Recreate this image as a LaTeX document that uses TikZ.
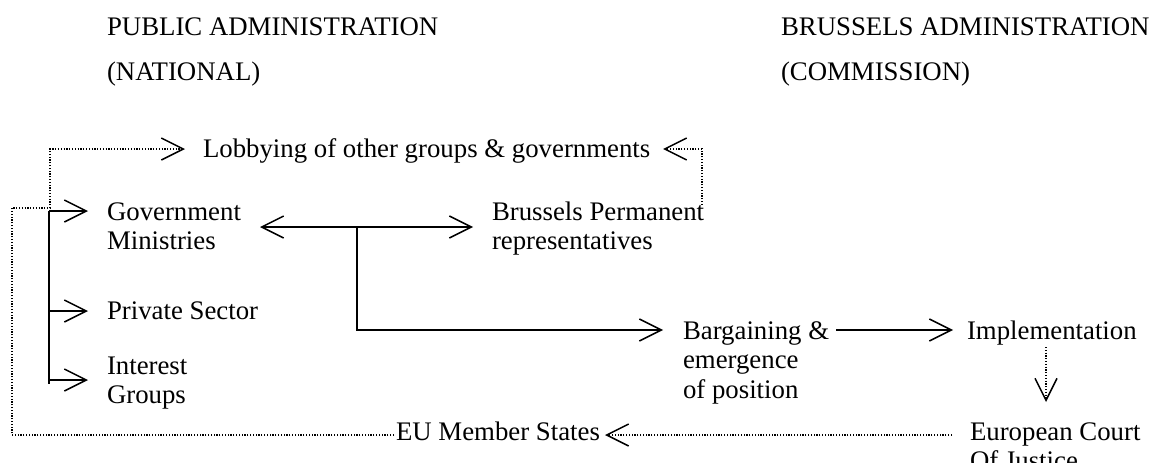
\documentclass[tikz,border=0pt]{standalone}
\usepackage{fontspec}
\setmainfont{Liberation Serif}
\usetikzlibrary{arrows.meta}
\newcommand{\diagfont}{\fontsize{26.8}{29.5}\selectfont}
\begin{document}
\begin{tikzpicture}[x=1pt,y=-1pt,
  txt/.style={font=\diagfont, anchor=base west, inner sep=0pt, outer sep=0pt},
  sol/.style={line width=1.5pt},
  dotln/.style={line width=1.2pt, dash pattern=on 1.2pt off 1.6pt},
  arr/.style={-{Straight Barb[length=22pt,width=22pt,line width=1.5pt]}},
  darr/.style={{Straight Barb[length=22pt,width=22pt,line width=1.5pt]}-{Straight Barb[length=22pt,width=22pt,line width=1.5pt]}}]
\useasboundingbox (0,0) rectangle (1151,463);
% headers
\node[txt] (pub)  at (107,35) {PUBLIC ADMINISTRATION};
\node[txt] (nat)  at (107,80) {(NATIONAL)};
\node[txt] (bru)  at (781,35) {BRUSSELS ADMINISTRATION};
\node[txt] (com)  at (781,80) {(COMMISSION)};
% nodes
\node[txt] (lob)  at (203,157) {Lobbying of other groups \& governments};
\node[txt] (gov)  at (107,220) {\vtop{\hbox{Government}\hbox{Ministries}}};
\node[txt] (priv) at (107,319) {Private Sector};
\node[txt] (int)  at (107,374) {\vtop{\hbox{Interest}\hbox{Groups}}};
\node[txt] (bpr)  at (492,220) {\vtop{\hbox{Brussels Permanent}\hbox{representatives}}};
\node[txt] (barg) at (683,339) {\vtop{\hbox{Bargaining \&}\hbox{emergence}\hbox{of position}}};
\node[txt] (impl) at (967,339) {Implementation};
\node[txt] (ecj)  at (970,440) {\vtop{\hbox{European Court}\hbox{Of Justice}}};
\node[txt] (eu)   at (396,440) {EU Member States};
% coordinates
\coordinate (lobL) at (185,149);
\coordinate (lobR) at (663,149);
\coordinate (bprTop) at (702,205);
\coordinate (treeTop) at (49,211);
\coordinate (treeBot) at (49,384);
\coordinate (govTip) at (88,211);
\coordinate (privTip) at (88,311);
\coordinate (intTip) at (88,380);
\coordinate (govR) at (260,227);
\coordinate (bprL) at (473,227);
\coordinate (branch) at (357,227);
\coordinate (bargTip) at (663,330);
\coordinate (bargR) at (836,330);
\coordinate (implTip) at (953,330);
\coordinate (implB) at (1046,347);
\coordinate (ecjTip) at (1046,402);
\coordinate (ecjL) at (952,435);
\coordinate (euTip) at (605,435);
\coordinate (euL) at (394,435);
% solid connectors
\draw[sol] (treeTop) -- (treeBot);
\draw[sol,arr] (treeTop) -- (govTip);
\draw[sol,arr] (treeTop |- privTip) -- (privTip);
\draw[sol,arr] (treeTop |- intTip) -- (intTip);
\draw[sol,darr] (govR) -- (bprL);
\draw[sol,arr] (branch) |- (bargTip);
\draw[sol,arr] (bargR) -- (implTip);
% dotted connectors
\draw[dotln,arr] (bprTop) |- (lobR);
\draw[dotln,arr] (implB) -- (ecjTip);
\draw[dotln,arr] (ecjL) -- (euTip);
\draw[dotln,arr] (euL) -- (12,435) -- (12,208) -- (50,208) -- (50,149) -- (lobL);
\end{tikzpicture}
\end{document}
